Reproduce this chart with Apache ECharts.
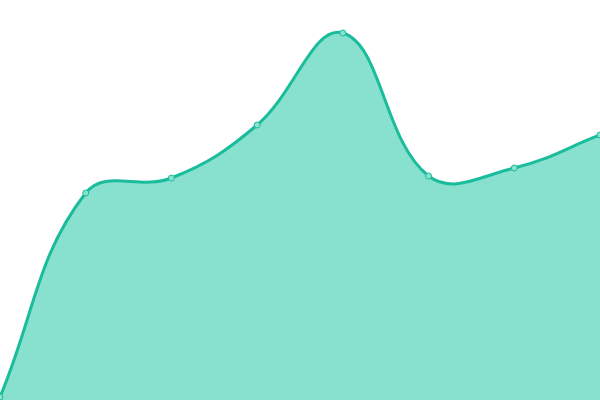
<!DOCTYPE html>
<html><head><meta charset="utf-8">
<script src="https://cdn.jsdelivr.net/npm/echarts@6/dist/echarts.min.js"></script>
<style>html,body{margin:0;padding:0;background:#fff}#c{width:600px;height:400px}</style>
</head><body><div id="c"></div>
<script>
const categories = ['1','2','3','4','5','6','7','8'];
const values = [3, 207, 222, 275, 367, 224, 232, 265];
const tension = 0.4;

const chart = echarts.init(document.getElementById('c'));

function renderCurve(params, api) {
  const cs = params.coordSys;
  const pts = values.map((v, i) => api.coord([i, v]));
  const baseY = api.coord([0, 0])[1];
  const clampX = x => Math.min(cs.x + cs.width, Math.max(cs.x, x));
  const clampY = y => Math.min(cs.y + cs.height, Math.max(cs.y, y));
  const cps = pts.map((p, i) => {
    const prev = pts[i - 1] || p, next = pts[i + 1] || p;
    const d01 = Math.hypot(p[0] - prev[0], p[1] - prev[1]);
    const d12 = Math.hypot(next[0] - p[0], next[1] - p[1]);
    let s01 = d01 / (d01 + d12), s12 = d12 / (d01 + d12);
    if (!isFinite(s01)) s01 = 0;
    if (!isFinite(s12)) s12 = 0;
    const fa = tension * s01, fb = tension * s12;
    return {
      before: [clampX(p[0] - fa * (next[0] - prev[0])), clampY(p[1] - fa * (next[1] - prev[1]))],
      after: [clampX(p[0] + fb * (next[0] - prev[0])), clampY(p[1] + fb * (next[1] - prev[1]))]
    };
  });
  let d = 'M' + pts[0][0] + ' ' + pts[0][1];
  for (let i = 1; i < pts.length; i++) {
    const a = cps[i - 1].after, b = cps[i].before, p = pts[i];
    d += ' C' + a[0] + ' ' + a[1] + ' ' + b[0] + ' ' + b[1] + ' ' + p[0] + ' ' + p[1];
  }
  const last = pts[pts.length - 1];
  const areaD = d + ' L' + last[0] + ' ' + baseY + ' L' + pts[0][0] + ' ' + baseY + ' Z';
  return {
    type: 'group',
    children: [
      {type: 'path', shape: {pathData: areaD}, style: {fill: '#88e0cf', stroke: null}},
      {type: 'path', shape: {pathData: d}, style: {fill: null, stroke: '#1abc9c', lineWidth: 3, lineJoin: 'round', lineCap: 'round'}}
    ]
  };
}

chart.setOption({
  animation: false,
  grid: {left: 0, right: 0, top: 0, bottom: 0},
  xAxis: {type: 'category', data: categories, boundaryGap: false, show: false},
  yAxis: {type: 'value', min: 0, max: 400, show: false},
  series: [
    {
      type: 'custom',
      renderItem: renderCurve,
      data: [[0, values[0]]],
      silent: true,
      z: 1
    },
    {
      type: 'scatter',
      data: values,
      symbol: 'circle',
      symbolSize: 6,
      itemStyle: {color: '#8be0cf', borderColor: '#1abc9c', borderWidth: 1, opacity: 1},
      z: 2
    }
  ]
});
</script></body></html>
